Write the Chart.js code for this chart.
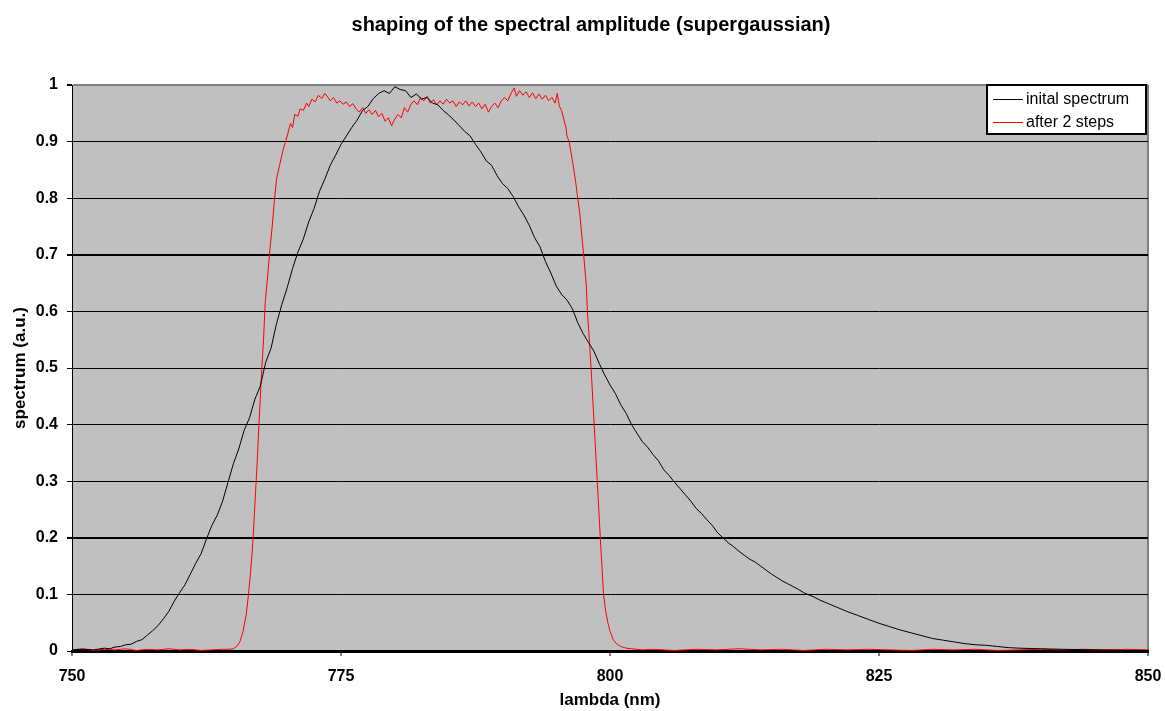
<!DOCTYPE html>
<html>
<head>
<meta charset="utf-8">
<title>shaping of the spectral amplitude (supergaussian)</title>
<script src="https://cdn.jsdelivr.net/npm/chart.js@4.4.1/dist/chart.umd.min.js"></script>
<style>
    body { margin: 0; background: #ffffff; }
</style>
</head>
<body>
<canvas id="spectrum-chart" width="1165" height="711"></canvas>
<script>
// wavelength (nm) and amplitude
var initialLambda = [
    750, 751, 752, 753, 753.5, 754, 754.5, 755, 755.5, 756, 756.5, 757, 757.5, 758, 758.5, 759, 759.5,
    760, 760.5, 761, 761.5, 762, 762.5, 763, 763.5, 764, 764.5, 765, 765.5, 766, 766.5, 767, 767.5,
    768, 768.5, 769, 769.5, 770, 770.5, 771, 771.5, 772, 772.5, 773, 773.5, 774, 774.5, 775, 775.5,
    776, 776.5, 777, 777.5, 778, 778.5, 779, 779.5, 780, 780.5, 781, 781.5, 782, 782.5, 783, 783.5,
    784, 784.5, 785, 785.5, 786, 786.5, 787, 787.5, 788, 788.5, 789, 789.5, 790, 790.5, 791, 791.5,
    792, 792.5, 793, 793.5, 794, 794.5, 795, 795.5, 796, 796.5, 797, 797.5, 798, 798.5, 799, 799.5,
    800, 800.5, 801, 801.5, 802, 802.5, 803, 803.5, 804, 804.5, 805, 805.5, 806, 806.5, 807, 807.5,
    808, 808.5, 809, 809.5, 810, 810.5, 811, 811.5, 812, 812.5, 813, 813.5, 814, 814.5, 815, 815.5,
    816, 816.5, 817, 817.5, 818, 818.5, 819, 819.5, 820, 821, 822, 823, 824, 825, 826, 827, 828, 829,
    830, 831, 832, 833, 834, 835, 836, 837, 838, 840, 842, 845, 848, 850
];
var initialSpectrum = [
    0.002, 0.003, 0.002, 0.005, 0.004, 0.007, 0.008, 0.011, 0.012, 0.017, 0.020, 0.028, 0.036, 0.045, 0.057, 0.070, 0.088,
    0.103, 0.117, 0.136, 0.155, 0.172, 0.198, 0.222, 0.240, 0.265, 0.298, 0.331, 0.357, 0.390, 0.412, 0.445, 0.468,
    0.510, 0.535, 0.578, 0.612, 0.642, 0.676, 0.705, 0.728, 0.758, 0.782, 0.812, 0.834, 0.858, 0.876, 0.895, 0.910,
    0.925, 0.938, 0.955, 0.962, 0.976, 0.985, 0.990, 0.985, 0.997, 0.992, 0.990, 0.978, 0.984, 0.975, 0.978, 0.968,
    0.965, 0.955, 0.947, 0.938, 0.928, 0.918, 0.910, 0.895, 0.882, 0.866, 0.858, 0.840, 0.826, 0.817, 0.803, 0.785,
    0.770, 0.752, 0.730, 0.714, 0.688, 0.668, 0.645, 0.630, 0.620, 0.605, 0.580, 0.561, 0.545, 0.530, 0.508, 0.488,
    0.470, 0.455, 0.435, 0.420, 0.400, 0.385, 0.370, 0.360, 0.347, 0.336, 0.320, 0.310, 0.298, 0.287, 0.276, 0.265,
    0.252, 0.243, 0.232, 0.222, 0.209, 0.200, 0.191, 0.184, 0.176, 0.169, 0.162, 0.157, 0.150, 0.143, 0.136, 0.130,
    0.124, 0.119, 0.114, 0.109, 0.103, 0.099, 0.095, 0.090, 0.086, 0.078, 0.070, 0.063, 0.056, 0.049, 0.043, 0.037, 0.032, 0.027,
    0.022, 0.019, 0.016, 0.013, 0.011, 0.010, 0.008, 0.006, 0.005, 0.004, 0.003, 0.002, 0.001, 0.001
];

var shapedLambda = [
    750, 751, 752, 753, 754, 755, 756, 757, 758, 759, 760, 761, 762, 763, 764, 764.5, 765, 765.3, 765.6, 765.9,
    766.2, 766.4, 766.6, 766.8, 767.0, 767.2, 767.4, 767.6, 767.8, 767.95, 768.2, 768.4, 768.6, 768.8, 769.0, 769.3,
    769.6, 770.0, 770.3, 770.5, 770.7, 771.0, 771.2, 771.5, 771.8, 772.0, 772.3, 772.6, 772.9, 773.2, 773.5, 773.8,
    774.0, 774.3, 774.6, 774.9, 775.2, 775.5, 775.8, 776.1, 776.4, 776.7, 777.0, 777.3, 777.6, 777.9, 778.2, 778.5,
    778.8, 779.1, 779.4, 779.7, 780.0, 780.3, 780.6, 780.9, 781.2, 781.5, 781.8, 782.1, 782.4, 782.7, 783.0, 783.3,
    783.6, 783.9, 784.2, 784.5, 784.8, 785.1, 785.4, 785.7, 786.0, 786.3, 786.6, 786.9, 787.2, 787.5, 787.8, 788.1,
    788.4, 788.7, 789.0, 789.3, 789.6, 789.9, 790.2, 790.5, 790.8, 791.1, 791.3, 791.6, 791.9, 792.2, 792.5, 792.8,
    793.1, 793.4, 793.7, 794.0, 794.3, 794.6, 794.9, 795.1, 795.3, 795.5, 795.7, 795.9, 796.0, 796.2, 796.4, 796.6,
    796.8, 797.0, 797.2, 797.4, 797.6, 797.8, 797.9, 798.1, 798.3, 798.5, 798.7, 798.9, 799.1, 799.25, 799.4, 799.6,
    799.8, 800.0, 800.3, 800.6, 801.0, 801.5, 802, 803, 804, 806, 808, 810, 812, 814, 816, 818, 820, 822, 824, 826,
    828, 830, 832, 834, 836, 838, 840, 842, 844, 846, 848, 850
];
var shapedSpectrum = [
    0.002, 0.004, 0.001, 0.003, 0.002, 0.004, 0.001, 0.003, 0.002, 0.004, 0.002, 0.003, 0.001, 0.002, 0.003, 0.003, 0.004, 0.008, 0.016, 0.035,
    0.065, 0.100, 0.140, 0.190, 0.260, 0.330, 0.410, 0.486, 0.550, 0.614, 0.666, 0.711, 0.749, 0.794, 0.833, 0.859,
    0.884, 0.910, 0.932, 0.925, 0.948, 0.945, 0.958, 0.955, 0.968, 0.962, 0.975, 0.970, 0.982, 0.976, 0.985, 0.978,
    0.972, 0.978, 0.968, 0.972, 0.966, 0.970, 0.962, 0.967, 0.958, 0.952, 0.960, 0.950, 0.956, 0.948, 0.955, 0.944,
    0.950, 0.936, 0.942, 0.928, 0.940, 0.948, 0.942, 0.960, 0.952, 0.966, 0.972, 0.965, 0.978, 0.972, 0.980, 0.968,
    0.974, 0.965, 0.972, 0.966, 0.975, 0.968, 0.972, 0.962, 0.970, 0.965, 0.972, 0.963, 0.970, 0.962, 0.968, 0.958,
    0.966, 0.952, 0.962, 0.968, 0.960, 0.972, 0.978, 0.972, 0.985, 0.995, 0.980, 0.990, 0.982, 0.988, 0.978, 0.986,
    0.976, 0.984, 0.975, 0.982, 0.972, 0.978, 0.968, 0.985, 0.962, 0.955, 0.940, 0.925, 0.910, 0.900, 0.878, 0.855,
    0.830, 0.800, 0.772, 0.730, 0.690, 0.645, 0.600, 0.545, 0.480, 0.410, 0.340, 0.270, 0.200, 0.150, 0.100, 0.070,
    0.050, 0.035, 0.020, 0.013, 0.008, 0.005, 0.004, 0.002, 0.003, 0.001, 0.003, 0.002, 0.004, 0.002, 0.003, 0.001, 0.003, 0.002, 0.003, 0.002,
    0.001, 0.003, 0.002, 0.003, 0.001, 0.002, 0.003, 0.002, 0.003, 0.002, 0.003, 0.002
];

var xTicks = [750, 775, 800, 825, 850];
var yStep = 0.1;

function toPoints(xs, ys) {
    return xs.map(function (x, i) { return { x: x, y: ys[i] }; });
}

function near(v, target) {
    return Math.abs(v - target) < 1e-6;
}

var fontFamily = '"Liberation Sans", Arial, sans-serif';

// grey plot area like the old spreadsheet chart
var plotBackground = {
    id: 'plotBackground',
    beforeDraw: function (chart) {
        var a = chart.chartArea;
        var c = chart.ctx;
        c.save();
        c.fillStyle = '#c0c0c0';
        c.fillRect(a.left, a.top, a.right - a.left, a.bottom - a.top);
        c.restore();
    }
};

var chartTitle = {
    id: 'chartTitle',
    afterDraw: function (chart) {
        var c = chart.ctx;
        c.save();
        c.font = 'bold 20px ' + fontFamily;
        c.fillStyle = '#000000';
        c.textAlign = 'center';
        c.textBaseline = 'middle';
        c.fillText('shaping of the spectral amplitude (supergaussian)', 591, 25);
        c.restore();
    }
};

// boxed legend in the top right corner of the plot
var boxLegend = {
    id: 'boxLegend',
    afterDatasetsDraw: function (chart) {
        var a = chart.chartArea;
        var c = chart.ctx;
        var w = 159, h = 49;
        var left = a.right - 2 - w;
        var top = a.top;
        c.save();
        c.fillStyle = '#ffffff';
        c.fillRect(left, top, w, h);
        c.strokeStyle = '#000000';
        c.lineWidth = 2;
        c.strokeRect(left, top, w, h);
        c.font = '16px ' + fontFamily;
        c.textBaseline = 'middle';
        chart.data.datasets.forEach(function (ds, i) {
            var y = top + 14.5 + i * 23;
            c.strokeStyle = ds.borderColor;
            c.lineWidth = 1;
            c.beginPath();
            c.moveTo(left + 6, y);
            c.lineTo(left + 36, y);
            c.stroke();
            c.fillStyle = '#000000';
            c.fillText(ds.label, left + 39, y);
        });
        c.restore();
    }
};

var ctx = document.getElementById('spectrum-chart').getContext('2d');
var chart = new Chart(ctx, {
    type: 'line',
    data: {
        datasets: [
            {
                label: 'inital spectrum',
                data: toPoints(initialLambda, initialSpectrum),
                borderColor: '#000000',
                borderWidth: 1,
                pointRadius: 0,
                tension: 0
            },
            {
                label: 'after 2 steps',
                data: toPoints(shapedLambda, shapedSpectrum),
                borderColor: '#ff0000',
                borderWidth: 1,
                pointRadius: 0,
                tension: 0
            }
        ]
    },
    options: {
        responsive: false,
        animation: false,
        layout: {
            padding: { top: 85, right: 17, bottom: 0, left: 0 }
        },
        plugins: {
            legend: { display: false },
            title: { display: false },
            tooltip: { enabled: false }
        },
        scales: {
            x: {
                type: 'linear',
                min: xTicks[0],
                max: xTicks[xTicks.length - 1],
                afterBuildTicks: function (scale) {
                    scale.ticks = xTicks.map(function (v) { return { value: v }; });
                },
                afterFit: function (scale) {
                    scale.height = 60;
                    scale.paddingLeft = 0;
                    scale.paddingRight = 0;
                },
                ticks: {
                    padding: 11,
                    maxRotation: 0,
                    color: '#000000',
                    font: { family: fontFamily, size: 16, weight: 'bold' }
                },
                grid: {
                    drawOnChartArea: true,
                    color: function (c) {
                        return c.tick && c.tick.value === 850 ? '#808080' : 'rgba(0,0,0,0)';
                    },
                    lineWidth: 2,
                    tickColor: '#000000',
                    tickWidth: 1,
                    tickLength: 5
                },
                border: { color: '#000000', width: 3 },
                title: {
                    display: true,
                    text: 'lambda (nm)',
                    color: '#000000',
                    font: { family: fontFamily, size: 17, weight: 'bold' },
                    padding: { top: 0, bottom: 0 }
                }
            },
            y: {
                min: 0,
                max: 1,
                afterFit: function (scale) { scale.width = 72; },
                ticks: {
                    stepSize: yStep,
                    padding: 9,
                    color: '#000000',
                    font: { family: fontFamily, size: 16, weight: 'bold' },
                    callback: function (value) {
                        return String(Math.round(value * 10) / 10);
                    }
                },
                grid: {
                    color: function (c) {
                        return c.tick && near(c.tick.value, 1) ? '#808080' : '#000000';
                    },
                    lineWidth: function (c) {
                        if (!c.tick) return 1;
                        var v = c.tick.value;
                        return (near(v, 1) || near(v, 0.2) || near(v, 0.7)) ? 2 : 1;
                    },
                    tickColor: '#000000',
                    tickLength: 5
                },
                border: { color: '#000000', width: 1 },
                title: {
                    display: true,
                    text: 'spectrum (a.u.)',
                    color: '#000000',
                    font: { family: fontFamily, size: 17, weight: 'bold' },
                    padding: { top: 10, bottom: 0 }
                }
            }
        }
    },
    plugins: [plotBackground, chartTitle, boxLegend]
});
</script>
</body>
</html>
